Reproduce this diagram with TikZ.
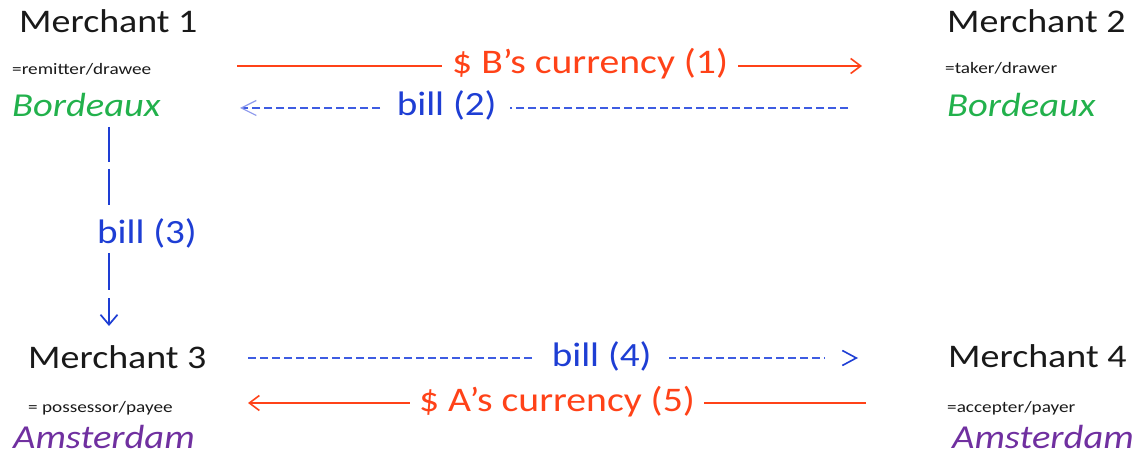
\documentclass[tikz,border=0pt]{standalone}
\usepackage{fontspec}
\setmainfont{Carlito}[FakeStretch=1.15]
\newfontfamily\rolefont{Carlito}[FakeStretch=1.2]
\usetikzlibrary{arrows.meta}

\definecolor{inkblack}{RGB}{25,25,25}
\definecolor{payred}{RGB}{255,66,24}
\definecolor{billblue}{RGB}{30,62,212}
\definecolor{dashblue}{RGB}{62,92,226}
\definecolor{paleblue}{RGB}{140,152,236}
\definecolor{bordgreen}{RGB}{34,177,76}
\definecolor{amspurple}{RGB}{112,48,160}

\tikzset{
  merchant/.style={anchor=base west, inner sep=0pt, text=inkblack,
    font=\fontsize{33}{36}\selectfont},
  role/.style={anchor=base west, inner sep=0pt, text=inkblack,
    font=\rolefont\fontsize{16}{18}\selectfont},
  bordeauxcity/.style={anchor=base west, inner sep=0pt, text=bordgreen,
    font=\fontsize{33.5}{36}\selectfont\itshape},
  amsterdamcity/.style={anchor=base west, inner sep=0pt, text=amspurple,
    font=\fontsize{33.5}{36}\selectfont\itshape},
  payline/.style={draw=payred, line width=1.6pt,
    -{Straight Barb[length=10pt,width=15pt]}},
  billline/.style={draw=dashblue, line width=1.7pt,
    dash pattern=on 8pt off 4pt},
  % labels sit with the line through the middle of their lower-case letters
  lbl/.style={anchor=base, yshift=-8pt, fill=white, inner ysep=2pt,
    font=\fontsize{34.5}{38}\selectfont},
}

\begin{document}
\begin{tikzpicture}[x=1pt,y=-1pt]
\useasboundingbox (0,0) rectangle (1146,457);

% merchants with their roles and cities
\node[merchant] (m1) at (19,33) {Merchant 1};
\node[role] (r1) at (12,75) {=remitter/drawee};
\node[bordeauxcity] (c1) at (12,117) {Bordeaux};

\node[merchant] (m2) at (947,33) {Merchant 2};
\node[role] (r2) at (945,74) {=taker/drawer};
\node[bordeauxcity] (c2) at (947,117) {Bordeaux};

\node[merchant] (m3) at (28,368) {Merchant 3};
\node[role] (r3) at (28,412) {= possessor/payee};
\node[amsterdamcity] (c3) at (13,448) {Amsterdam};

\node[merchant] (m4) at (948,367) {Merchant 4};
\node[role] (r4) at (947,412) {=accepter/payer};
\node[amsterdamcity] (c4) at (952,448) {Amsterdam};

% connector ends
\coordinate (p1s) at (237,66);
\coordinate (p1e) at (862,66);
\coordinate (b2s) at (848,108);
\coordinate (b2e) at (240,108);
\coordinate (b3s) at (109,127);
\coordinate (b3e) at (109,326);
\coordinate (b4s) at (248,358);
\coordinate (b4g) at (825,358);
\coordinate (b4t) at (854,358);
\coordinate (b4e) at (858,358);
\coordinate (p5s) at (866,403);
\coordinate (p5e) at (248,403);

% (1) payment from Merchant 1 to Merchant 2
\draw[payline] (p1s) -- node[lbl, pos=0.565, inner xsep=10pt, text=payred]
  {\$ B’s currency (1)} (p1e);

% (2) bill back to Merchant 1
\draw[billline, -{Straight Barb[length=15pt,width=15pt,line width=1.2pt,color=paleblue]}]
  (b2s) -- node[lbl, pos=0.66, inner xsep=13pt, font=\fontsize{34}{38}\selectfont,
    text=billblue] {bill (2)} (b2e);

% (3) bill sent down to Merchant 3
\draw[draw=billblue, line width=1.7pt,
  dash pattern=on 35pt off 7pt on 36pt off 48pt on 37pt off 8pt on 40pt,
  -{Straight Barb[length=10pt,width=17pt]}]
  (b3s) -- node[pos=0.583, xshift=38pt, anchor=base, inner sep=0pt,
    text=billblue, font=\fontsize{34}{38}\selectfont] {bill (3)} (b3e);

% (4) bill presented to Merchant 4; the head stands a little apart
\draw[billline, -{Straight Barb[length=14pt,width=15pt,line width=1.6pt,color=billblue]}]
  (b4s) -- node[lbl, pos=0.613, inner xsep=17pt, font=\fontsize{34}{38}\selectfont,
    text=billblue] {bill (4)} (b4g)
  (b4t) -- (b4e);

% (5) payment from Merchant 4 to Merchant 3
\draw[payline] (p5s) -- node[lbl, pos=0.5, inner xsep=9pt, text=payred]
  {\$ A’s currency (5)} (p5e);
\end{tikzpicture}
\end{document}
